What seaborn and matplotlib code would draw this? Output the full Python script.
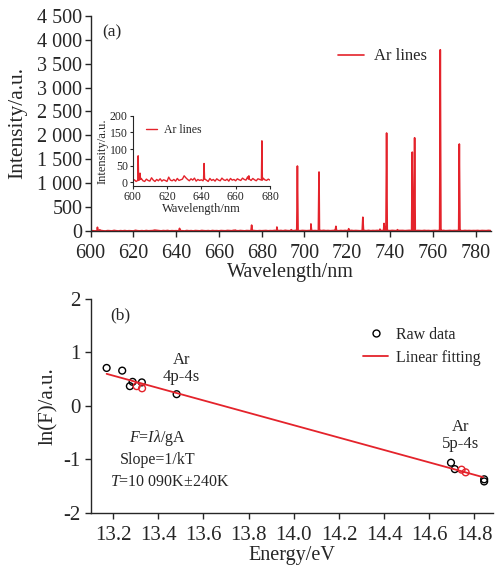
# Ar emission spectrum + Boltzmann plot (two panels)
import numpy as np
import pandas as pd
import matplotlib.pyplot as plt
import seaborn as sns
from matplotlib.lines import Line2D

# ── 1. Data ──────────────────────────────────────────────────
# baseline noise of the spectrum, 1 nm steps starting at 600 nm
baseline = [
    4, 8, 3, 6, 9, 12, 5, 3, 10, 6, 4, 14, 7, 3, 9, 5, 11, 4, 8, 6,
    3, 16, 7, 5, 9, 4, 12, 6, 8, 10, 20, 14, 9, 5, 11, 7, 13, 4, 9, 6,
    8, 5, 10, 7, 3, 12, 6, 9, 4, 11, 7, 5, 13, 8, 6, 10, 4, 12, 7, 9,
    5, 11, 8, 6, 13, 9, 7, 17, 10, 6, 12, 8, 5, 11, 9, 7, 13, 8, 6, 10,
    7, 9, 12, 6, 10, 8, 14, 11, 9, 13, 7, 16, 10, 8, 12, 9, 15, 11, 8, 13,
    10, 8, 12, 14, 9, 11, 7, 13, 10, 15, 9, 12, 8, 11, 14, 10, 7, 12, 9, 13,
    8, 11, 14, 9, 12, 10, 7, 13, 11, 9, 15, 8, 12, 10, 14, 9, 11, 13, 10, 12,
    9, 14, 11, 8, 12, 10, 13, 9, 11, 15, 10, 12, 8, 13, 11, 9, 14, 10, 12, 8,
    11, 13, 9, 12, 10, 14, 8, 11, 13, 9, 12, 10, 15, 11, 8, 13, 10, 12, 9, 11,
    10, 13, 8, 12, 11, 9, 14, 10,
]
base_start = 600

# Ar lines: centre wavelength (nm) and peak intensity (a.u.)
peak_wl = [603.2, 604.3, 641.6, 667.7, 675.3, 687.1, 693.8, 696.7, 703.0,
           706.8, 714.7, 720.7, 727.3, 735.3, 737.2, 738.4, 743.5, 750.4,
           751.5, 763.5, 772.4]
peak_int = [80, 28, 57, 20, 125, 85, 30, 1360, 150,
            1235, 100, 50, 290, 40, 160, 2050, 30, 1650,
            1950, 3790, 1820]

# Boltzmann plot
raw_energy = [13.171, 13.240, 13.274, 13.286, 13.327, 13.481,
              14.696, 14.713, 14.843, 14.843]
raw_lnF = [0.71, 0.66, 0.37, 0.45, 0.44, 0.22,
           -1.06, -1.18, -1.37, -1.41]
red_energy = [13.304, 13.328, 14.743, 14.761]
red_lnF = [0.37, 0.33, -1.19, -1.24]
fit_energy = [13.171, 14.838]
fit_lnF = [0.60, -1.33]

RED = "#e4232b"

# ── 2. Build spectrum table ──────────────────────────────────
wl = list(np.arange(len(baseline)) + base_start)
inten = list(baseline)
for c, h in zip(peak_wl, peak_int):
    b = baseline[int(round(c)) - base_start]
    wl += [c - 0.3, c, c + 0.3]
    inten += [b, h, b]
spec = pd.DataFrame({"wl": wl, "I": inten}).sort_values("wl")

# ── 3. Style ─────────────────────────────────────────────────
sns.set_theme(style="ticks")
plt.rcParams["font.family"] = ["Liberation Serif", "DejaVu Serif"]
plt.rcParams["mathtext.fontset"] = "custom"
plt.rcParams["mathtext.rm"] = "Liberation Serif"
plt.rcParams["mathtext.it"] = "Liberation Serif:italic"
plt.rcParams["axes.unicode_minus"] = False
plt.rcParams["axes.linewidth"] = 1.0
plt.rcParams["xtick.major.size"] = 4
plt.rcParams["ytick.major.size"] = 4
plt.rcParams["xtick.major.width"] = 1.0
plt.rcParams["ytick.major.width"] = 1.0

fig = plt.figure(figsize=(4.95, 5.65), dpi=100)

# ── 4. Panel (a): spectrum ───────────────────────────────────
ax1 = fig.add_axes([0.183, 0.591, 0.808, 0.381])
sns.lineplot(data=spec, x="wl", y="I", estimator=None, sort=True,
             color=RED, lw=1.2, ax=ax1, label="Ar lines")
ax1.set_xlim(600, 787)
ax1.set_ylim(0, 4500)
ax1.set_xticks(range(600, 781, 20))
yt = list(range(0, 4501, 500))
ax1.set_yticks(yt)
ax1.set_yticklabels([f"{v:,}".replace(",", " ") for v in yt])
ax1.tick_params(axis="y", labelsize=14.5, pad=2)
ax1.tick_params(axis="x", labelsize=14.5, pad=5)
ax1.set_xlabel("Wavelength/nm", fontsize=14.5, labelpad=0)
ax1.set_ylabel("Intensity/a.u.", fontsize=15.5, labelpad=7)
ax1.text(0.03, 0.921, "(a)", transform=ax1.transAxes, fontsize=12.5, va="center")
ax1.legend(loc="upper left", bbox_to_anchor=(0.58, 0.918), frameon=False,
           fontsize=12, handlelength=1.6, handletextpad=0.6)
sns.despine(ax=ax1)

# inset: zoom 600-680 nm
axin = fig.add_axes([0.268, 0.670, 0.2774, 0.125])
sub = spec[spec["wl"] <= 680]
sns.lineplot(data=sub, x="wl", y="I", estimator=None, sort=True,
             color=RED, lw=1.0, ax=axin, label="Ar lines")
axin.set_xlim(600, 680)
axin.set_ylim(-12, 200)
axin.set_xticks(range(600, 681, 20))
axin.set_yticks(range(0, 201, 50))
axin.tick_params(labelsize=8.5, length=2.5, width=0.8, pad=1)
axin.set_xlabel("Wavelength/nm", fontsize=9, labelpad=0)
axin.set_ylabel("Intensity/a.u.", fontsize=9, labelpad=1)
axin.legend(loc="upper left", frameon=False, fontsize=8.5,
            handlelength=0.9, handletextpad=0.6, borderaxespad=0.3,
            bbox_to_anchor=(0.04, 1.0))
for s in axin.spines.values():
    s.set_linewidth(0.8)
sns.despine(ax=axin)

# ── 5. Panel (b): Boltzmann plot ─────────────────────────────
ax2 = fig.add_axes([0.183, 0.092, 0.812, 0.379])
sns.lineplot(x=fit_energy, y=fit_lnF, color=RED, lw=1.3, ax=ax2)
sns.scatterplot(x=raw_energy, y=raw_lnF, ax=ax2, s=24, marker="o",
                facecolors="none", edgecolor="black", linewidth=1.0)
sns.scatterplot(x=red_energy, y=red_lnF, ax=ax2, s=24, marker="o",
                facecolors="none", edgecolor=RED, linewidth=1.0)
ax2.set_xlim(13.1, 14.88)
ax2.set_ylim(-2, 2)
ax2.set_xticks(np.round(np.arange(13.2, 14.81, 0.2), 1))
ax2.set_yticks([-2, -1, 0, 1, 2])
ax2.tick_params(axis="x", labelsize=15, pad=5)
ax2.tick_params(axis="y", labelsize=15, pad=3)
ax2.set_xlabel("Energy/eV", fontsize=14.5, labelpad=1)
ax2.set_ylabel("ln(F)/a.u.", fontsize=15, labelpad=4)
ax2.text(0.048, 0.925, "(b)", transform=ax2.transAxes, fontsize=12.5, va="center")
ax2.text(13.503, 0.70, "Ar\n4p-4s", ha="center", va="center", fontsize=12,
         linespacing=1.05)
ax2.text(14.739, -0.55, "Ar\n5p-4s", ha="center", va="center", fontsize=12,
         linespacing=1.05)
ax2.text(13.398, -0.60, "$F$=$I\\lambda$/gA", ha="center", va="center", fontsize=11.5)
ax2.text(13.398, -1.01, "Slope=1/kT", ha="center", va="center", fontsize=11.5)
ax2.text(13.451, -1.415, "$T$=10 090K±240K", ha="center", va="center", fontsize=11.5)
handles = [Line2D([], [], ls="none", marker="o", mfc="none", mec="black",
                  ms=5, mew=1.0),
           Line2D([], [], color=RED, lw=1.3)]
ax2.legend(handles, ["Raw data", "Linear fitting"], loc="upper right",
           bbox_to_anchor=(1.005, 0.938), frameon=False, fontsize=11.5,
           handlelength=1.6, handletextpad=0.45, labelspacing=0.45)
sns.despine(ax=ax2)

plt.savefig("out.png", dpi=100)
print("Saved: out.png")
